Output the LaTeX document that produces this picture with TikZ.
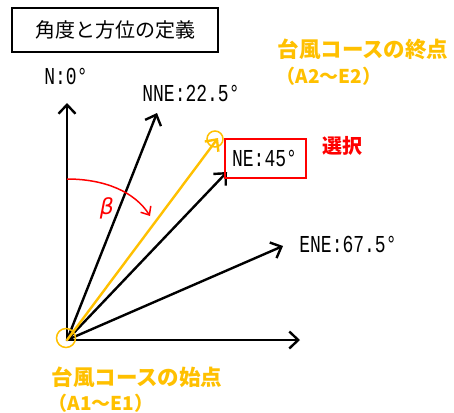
\documentclass[tikz,border=0pt]{standalone}
\usepackage{fontspec}
\usepackage{graphicx}
\setmainfont{Noto Sans CJK JP}
\newfontfamily\labelfont{Liberation Mono}
\newfontfamily\betafont{DejaVu Sans}
\usetikzlibrary{arrows.meta}
\definecolor{gold}{HTML}{FFC000}
\definecolor{selred}{HTML}{FF0000}
\newcommand{\dirlabel}[1]{\scalebox{1}[1.35]{#1}}
\begin{document}
\begin{tikzpicture}[x=1pt,y=-1pt,
  vec/.style={line width=2.4pt, line cap=round, -{Straight Barb[length=9pt,width=17pt,line width=2.4pt]}},
  goldvec/.style={vec, draw=gold},
  lbl/.style={font=\labelfont\fontsize{18}{18}\selectfont, inner sep=0pt},
  jtext/.style={font=\fontsize{21.5}{21.5}\selectfont\bfseries, text=gold, inner sep=0pt},
  jsub/.style={font=\fontsize{19}{19}\selectfont\bfseries, text=gold, inner sep=0pt},
  titlebox/.style={draw=black, line width=1.5pt, minimum width=206pt, minimum height=44pt, inner sep=0pt, font=\fontsize{20}{20}\selectfont},
  selbox/.style={draw=selred, line width=1.5pt, minimum width=81pt, minimum height=39pt, inner sep=0pt},
  ring/.style={draw=gold, line width=1.5pt}
]
\useasboundingbox (0,0) rectangle (454,412);
\node[titlebox] (title) at (115,30) {角度と方位の定義};

\coordinate (O) at (67,340);
\coordinate (ntip) at (67,103);
\coordinate (etip) at (300,340);
\coordinate (nnetip) at (157,113);
\coordinate (netip) at (227,172);
\coordinate (enetip) at (283,246);
\coordinate (goldtip) at (218,138);

\draw[vec] (O) -- (ntip);
\draw[vec] (O) -- (etip);
\draw[vec] (O) -- (nnetip);
\draw[vec] (O) -- (netip);
\draw[vec] (O) -- (enetip);
\draw[goldvec] (O) -- (goldtip);

\node[ring, circle, minimum size=16pt, inner sep=0pt] (endring) at (215,139) {};
\node[ring, circle, minimum size=19pt, inner sep=0pt] (startring) at (66,338) {};

\node[lbl] (nlbl) at (66,76) {\dirlabel{N:0°}};
\node[lbl] (nnelbl) at (191,93) {\dirlabel{NNE:22.5°}};
\node[selbox] (nebox) at (265.5,158.5) {};
\node[lbl] (nelbl) at (264.5,158.5) {\dirlabel{NE:45°}};
\node[lbl] (enelbl) at (348,244) {\dirlabel{ENE:67.5°}};

\node[font=\fontsize{20}{20}\selectfont\bfseries, text=selred, inner sep=0pt] (sel) at (342,146) {選択};

\coordinate (arcstart) at (67,179);
\coordinate (arcend) at (150,216);
\draw[draw=selred, line width=1.5pt, -{Straight Barb[length=7pt,width=12pt,line width=1.5pt]}] (arcstart) .. controls (105,179) and (135,192) .. (arcend);
\node[text=selred, inner sep=0pt, font=\betafont\itshape\fontsize{22}{22}\selectfont] (beta) at (107,208) {β};

\node[jtext] (endt) at (363,49) {台風コースの終点};
\node[jsub] (endsub) at (329,76) {（A2～E2）};
\node[jtext] (startt) at (137,377) {台風コースの始点};
\node[jsub] (startsub) at (101,403) {（A1～E1）};
\end{tikzpicture}
\end{document}
